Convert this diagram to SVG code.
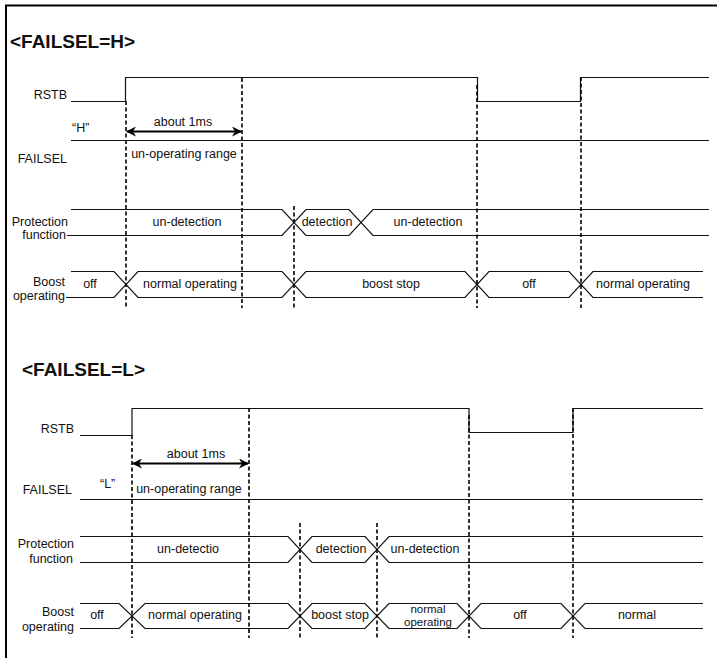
<svg xmlns="http://www.w3.org/2000/svg" width="717" height="658" viewBox="0 0 717 658">
<style>
  .sig{fill:none;stroke:#111;stroke-width:1.2}
  .dash{fill:none;stroke:#000;stroke-width:1.6;stroke-dasharray:4 2.5}
  .arr{stroke:#000;stroke-width:2;marker-start:url(#ah);marker-end:url(#ah)}
  text{font-family:"Liberation Sans",Arial,sans-serif;font-size:12.5px;fill:#111}
  .title{font-size:19px;font-weight:bold}
  .lbl{text-anchor:end}
  .mid{text-anchor:middle}
  .sm{font-size:11.5px}
</style>
<defs>
  <marker id="ah" viewBox="0 0 10 10" refX="9" refY="5" markerWidth="5" markerHeight="5" orient="auto-start-reverse" markerUnits="strokeWidth">
    <path d="M0,0 L10,5 L0,10 L3,5 Z" fill="#000"/>
  </marker>
</defs>
<rect width="717" height="658" fill="#fff"/>
<g id="frame">
  <path d="M6,658 V5.5 H717" fill="none" stroke="#000" stroke-width="2"/>
</g>

<g id="sectionH">
  <text class="title" x="10" y="48">&lt;FAILSEL=H&gt;</text>
  <g id="H-rstb">
    <text class="lbl" x="67" y="99">RSTB</text>
    <path class="sig" d="M71,101.5 H125.5 V77.5 H477.5 V101.5 H580.5 V77.5 H709"/>
  </g>
  <g id="H-failsel">
    <text x="72" y="132">“H”</text>
    <text class="lbl" x="67" y="163">FAILSEL</text>
    <path class="sig" d="M71,140.5 H709"/>
  </g>
  <g id="H-protection">
    <text class="lbl" x="68" y="226">Protection</text>
    <text class="lbl" x="66" y="239">function</text>
    <path class="sig" d="M71,209.5 H282 L306,235.5 H349 L373,209.5 H709"/>
    <path class="sig" d="M67,235.5 H282 L306,209.5 H349 L373,235.5 H709"/>
    <text class="mid" x="187" y="226">un-detection</text>
    <text class="mid" x="327" y="226">detection</text>
    <text class="mid" x="428" y="226">un-detection</text>
  </g>
  <g id="H-boost">
    <text class="lbl" x="65" y="286">Boost</text>
    <text class="lbl" x="65" y="300">operating</text>
    <path class="sig" d="M71,271.5 H114 L138,297.5 H282 L306,271.5 H465 L489,297.5 H569 L593,271.5 H703"/>
    <path class="sig" d="M66,297.5 H114 L138,271.5 H282 L306,297.5 H465 L489,271.5 H569 L593,297.5 H703"/>
    <text class="mid" x="90" y="288">off</text>
    <text class="mid" x="190" y="288">normal operating</text>
    <text class="mid" x="391" y="288">boost stop</text>
    <text class="mid" x="529" y="288">off</text>
    <text class="mid" x="643" y="288">normal operating</text>
  </g>
  <g id="H-timing">
    <path class="arr" d="M127,131.5 H241"/>
    <text class="mid" x="183" y="126">about 1ms</text>
    <text class="mid" x="184" y="158">un-operating range</text>
  </g>
</g>

<g id="sectionL">
  <text class="title" x="22" y="376">&lt;FAILSEL=L&gt;</text>
  <g id="L-rstb">
    <text class="lbl" x="74" y="433">RSTB</text>
    <path class="sig" d="M80,435.5 H132 V408.5 H469 V432.5 H573 V408.5 H703"/>
  </g>
  <g id="L-failsel">
    <text class="lbl" x="72" y="494">FAILSEL</text>
    <text x="100" y="488">“L”</text>
    <path class="sig" d="M80,499.5 H703"/>
  </g>
  <g id="L-protection">
    <text class="lbl" x="74" y="548">Protection</text>
    <text class="lbl" x="73" y="563">function</text>
    <path class="sig" d="M80,536.5 H288 L312,562.5 H365 L389,536.5 H703"/>
    <path class="sig" d="M80,562.5 H288 L312,536.5 H365 L389,562.5 H703"/>
    <text class="mid" x="188" y="553">un-detectio</text>
    <text class="mid" x="341" y="553">detection</text>
    <text class="mid" x="425" y="553">un-detection</text>
  </g>
  <g id="L-boost">
    <text class="lbl" x="74" y="616">Boost</text>
    <text class="lbl" x="74" y="631">operating</text>
    <path class="sig" d="M80,603.5 H119 L145,628.5 H288 L312,603.5 H365 L389,628.5 H457 L481,603.5 H561 L585,628.5 H703"/>
    <path class="sig" d="M80,628.5 H119 L145,603.5 H288 L312,628.5 H365 L389,603.5 H457 L481,628.5 H561 L585,603.5 H703"/>
    <text class="mid" x="97" y="619">off</text>
    <text class="mid" x="195" y="619">normal operating</text>
    <text class="mid" x="340" y="619">boost stop</text>
    <text class="mid sm" x="428" y="613">normal</text>
    <text class="mid sm" x="428" y="626">operating</text>
    <text class="mid" x="520" y="619">off</text>
    <text class="mid" x="637" y="619">normal</text>
  </g>
  <g id="L-timing">
    <path class="arr" d="M133,463.5 H248"/>
    <text class="mid" x="196" y="458">about 1ms</text>
    <text class="mid" x="189" y="493">un-operating range</text>
  </g>
</g>

<g id="connectors">
  <path class="dash" d="M126,101 V308"/>
  <path class="dash" d="M242,78 V308"/>
  <path class="dash" d="M294,206 V308"/>
  <path class="dash" d="M477,85 V308"/>
  <path class="dash" d="M581,77 V308"/>
  <path class="dash" d="M132,435 V638"/>
  <path class="dash" d="M249,408 V638"/>
  <path class="dash" d="M300,523 V638"/>
  <path class="dash" d="M377,523 V638"/>
  <path class="dash" d="M469,415 V638"/>
  <path class="dash" d="M573,408 V638"/>
</g>
</svg>
